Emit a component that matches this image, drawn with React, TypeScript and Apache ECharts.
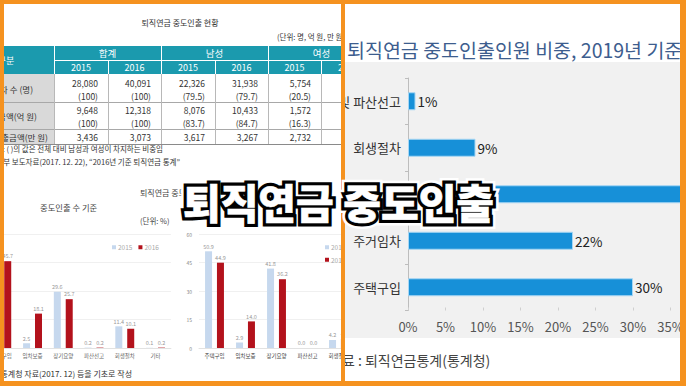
import React, { useEffect, useRef } from "react";
import * as echarts from "echarts";

const FONT = '"Noto Sans CJK KR", "Noto Sans", sans-serif';

// ---------- Left page: table ----------
const tableTitle = "퇴직연금 중도인출 현황";
const tableUnit = "(단위: 명, 억 원, 만 원)";
const tableCorner = "구분";
const tableGroups = ["합계", "남성", "여성"];
const tableYears = ["2015", "2016", "2015", "2016", "2015", "2016"];
const tableRowLabels = ["인출자 수 (명)", "인출금액(억 원)", "1인당 평균 인출금액(만 원)"];
const withdrawCount = ["28,080", "40,091", "22,326", "31,938", "5,754", "8,153"];
const withdrawCountShare = ["(100)", "(100)", "(79.5)", "(79.7)", "(20.5)", "(20.3)"];
const withdrawAmount = ["9,648", "12,318", "8,076", "10,433", "1,572", "1,885"];
const withdrawAmountShare = ["(100)", "(100)", "(83.7)", "(84.7)", "(16.3)", "(15.3)"];
const withdrawAverage = ["3,436", "3,073", "3,617", "3,267", "2,732", "2,312"];
const tableNote1 = "주: ( )의 값은 전체 대비 남성과 여성이 차지하는 비중임";
const tableNote2 = "자료: 고용노동부 보도자료(2017. 12. 22), “2016년 기준 퇴직연금 통계”";

// ---------- Left page: bar charts ----------
const reasonTitle = "퇴직연금 중도인출 사유별 비중";
const countChartTitle = "중도인출 수 기준";
const amountChartTitle = "중도인출 금액 기준";
const unitPercent = "(단위: %)";
const reasonCats = ["주택구입", "임차보증", "장기요양", "파산선고", "회생절차", "기타"];
const legendYears = ["2015", "2016"];
const count2015 = [56.2, 2.5, 29.6, 0.2, 11.4, 0.1];
const count2016 = [45.7, 18.1, 25.7, 0.2, 10.1, 0.2];
const amount2015 = [50.9, 2.9, 41.8, 0.0, 4.2, 0.2];
const amount2016 = [44.9, 14.0, 36.2, 0.0, 4.7, 0.2];
const leftSource = "자료: 통계청 자료(2017. 12) 등을 기초로 작성";

// ---------- Right page: horizontal bars ----------
const shareTitle = "퇴직연금 중도인출인원 비중, 2019년 기준";
const shareCats = ["개인회생 및 파산선고", "회생절차", "장기요양", "주거임차", "주택구입"];
const shareValues = [1, 9, 38, 22, 30];
const shareSource = "자료 : 퇴직연금통계(통계청)";

// ---------- Overlay ----------
const overlayText = "퇴직연금 중도인출";

const ORANGE = "#f5921f";
const TEAL = "#1b9aae";

// left panel offset (global -> local)
const LX = 4;
const LY = 4;
const lx = (x: number) => x - LX;
const ly = (y: number) => y - LY;
// right panel offset
const RX = 345;
const RY = 4;

function line(x1: number, y1: number, x2: number, y2: number, stroke: string, w = 1): any {
  return {
    type: "line",
    shape: { x1: lx(x1), y1: ly(y1), x2: lx(x2), y2: ly(y2) },
    style: { stroke, lineWidth: w },
  };
}

function txt(
  text: string,
  x: number,
  y: number,
  size: number,
  fill: string,
  align: string = "left",
  weight: any = "normal"
): any {
  return {
    type: "text",
    x: lx(x),
    y: ly(y),
    style: {
      text,
      fill,
      fontSize: size,
      fontFamily: FONT,
      fontWeight: weight,
      align,
      verticalAlign: "middle",
    },
  };
}

function buildLeftGraphics(): any[] {
  const g: any[] = [];
  const colEdges = [54, 108, 161, 215, 268, 321, 375];
  g.push({ type: "rect", shape: { x: lx(-20), y: ly(46), width: 395, height: 28 }, style: { fill: TEAL } });
  g.push({ type: "rect", shape: { x: lx(-20), y: ly(74), width: 74, height: 70 }, style: { fill: "#d9d9d9" } });
  g.push(line(54.5, 46, 54.5, 74, "#ffffff"));
  g.push(line(161.5, 46, 161.5, 74, "#ffffff"));
  g.push(line(268.5, 46, 268.5, 74, "#ffffff"));
  g.push(line(108.5, 60, 108.5, 74, "#ffffff"));
  g.push(line(215.5, 60, 215.5, 74, "#ffffff"));
  g.push(line(321.5, 60, 321.5, 74, "#ffffff"));
  g.push(line(54, 60.5, 375, 60.5, "#ffffff"));
  g.push(line(-20, 102.5, 375, 102.5, "#a8a8a8"));
  g.push(line(-20, 129.5, 375, 129.5, "#a8a8a8"));
  g.push(line(-20, 144.5, 375, 144.5, "#8a8a8a"));
  for (let i = 0; i < 6; i++) {
    g.push(line(colEdges[i] + 0.5, 74, colEdges[i] + 0.5, 144, "#b8b8b8"));
  }
  g.push(txt(tableCorner, 6, 60, 9, "#ffffff", "center"));
  tableGroups.forEach((t, i) => {
    g.push(txt(t, (colEdges[i * 2] + colEdges[i * 2 + 2]) / 2, 53, 9.5, "#ffffff", "center"));
  });
  tableYears.forEach((t, i) => {
    g.push(txt(t, (colEdges[i] + colEdges[i + 1]) / 2, 67.5, 9, "#ffffff", "center"));
  });
  g.push(txt(tableRowLabels[0], 33, 89, 8.5, "#333", "right"));
  g.push(txt(tableRowLabels[1], 37, 116, 8.5, "#333", "right"));
  g.push(txt(tableRowLabels[2], 48, 137, 8.5, "#333", "right"));
  for (let i = 0; i < 6; i++) {
    const xr = colEdges[i + 1] - 10;
    g.push(txt(withdrawCount[i], xr, 83, 8.5, "#333", "right"));
    g.push(txt(withdrawCountShare[i], xr, 96, 8.5, "#333", "right"));
    g.push(txt(withdrawAmount[i], xr, 109.5, 8.5, "#333", "right"));
    g.push(txt(withdrawAmountShare[i], xr, 122.5, 8.5, "#333", "right"));
    g.push(txt(withdrawAverage[i], xr, 137, 8.5, "#333", "right"));
  }
  g.push(txt(tableTitle, 180, 22, 8, "#333", "center"));
  g.push(txt(tableUnit, 277, 36, 7.5, "#333", "left"));
  g.push(txt(tableNote1, 163, 148, 7.5, "#333", "right"));
  g.push(txt(tableNote2, 180, 161, 7.5, "#333", "right"));
  g.push(txt(reasonTitle, 140, 192, 8, "#444", "left"));
  g.push(txt(countChartTitle, 40, 207, 8.3, "#444", "left"));
  g.push(txt(amountChartTitle, 238, 207, 8.3, "#444", "left"));
  g.push(txt(unitPercent, 140, 220, 7.5, "#444", "left"));
  g.push(txt(leftSource, 132, 373, 8, "#333", "right"));
  return g;
}

const fmt1 = (p: any) => Number(p.value).toFixed(1);

function barSeries(name: string, data: number[], axis: number, color: string): any {
  return {
    type: "bar",
    name,
    xAxisIndex: axis,
    yAxisIndex: axis,
    data,
    barWidth: 7,
    barGap: "70%",
    itemStyle: { color },
    label: {
      show: true,
      position: "top",
      distance: 2,
      fontSize: 5.5,
      color: "#999",
      fontFamily: FONT,
      formatter: fmt1,
    },
  };
}

function leftOption(): any {
  const catAxis = (gi: number, color: string) => ({
    type: "category",
    gridIndex: gi,
    data: reasonCats,
    axisLine: { show: true, lineStyle: { color: "#e2e2e2" } },
    axisTick: { show: false },
    axisLabel: { fontSize: 5.5, color, margin: 5, interval: 0, fontFamily: FONT },
  });
  const valAxis = (gi: number, showLabel: boolean) => ({
    type: "value",
    gridIndex: gi,
    min: 0,
    max: 60,
    interval: 15,
    axisLine: { show: false },
    axisTick: { show: false },
    axisLabel: { show: showLabel, fontSize: 5, color: "#888", margin: 7, fontFamily: FONT },
    splitLine: { lineStyle: { color: "#f0f0f0" } },
  });
  const legend = (left: number) => ({
    data: legendYears,
    left,
    top: 240,
    padding: 0,
    icon: "rect",
    itemWidth: 4,
    itemHeight: 4,
    itemGap: 6,
    selectedMode: false,
    textStyle: { fontSize: 6.5, color: "#aaa", fontFamily: FONT, padding: [0, 0, 0, -3] },
  });
  return {
    animation: false,
    backgroundColor: "#ffffff",
    textStyle: { fontFamily: FONT },
    grid: [
      { left: lx(-13.6), top: ly(234), width: 184.5, height: 114, containLabel: false, outerBoundsMode: "none" },
      { left: lx(199), top: ly(234), width: 186, height: 114, containLabel: false, outerBoundsMode: "none" },
    ],
    xAxis: [catAxis(0, "#666"), catAxis(1, "#444")],
    yAxis: [valAxis(0, false), valAxis(1, true)],
    legend: [legend(lx(112)), legend(lx(325))],
    series: [
      barSeries("2015", count2015, 0, "#c6d8ee"),
      barSeries("2016", count2016, 0, "#b3121c"),
      barSeries("2015", amount2015, 1, "#c6d8ee"),
      barSeries("2016", amount2016, 1, "#b3121c"),
    ],
    graphic: buildLeftGraphics(),
  };
}

function rightOption(): any {
  return {
    animation: false,
    backgroundColor: "#f1f1f1",
    textStyle: { fontFamily: FONT },
    grid: {
      left: 408 - RX,
      top: 78 - RY,
      width: 300,
      height: 232.5,
      containLabel: false,
      outerBoundsMode: "none",
    },
    xAxis: {
      type: "value",
      min: 0,
      max: 40,
      interval: 5,
      axisLine: { show: false },
      axisTick: { show: true, inside: true, length: 3, lineStyle: { color: "#cfcfcf" } },
      splitLine: { show: false },
      axisLabel: { formatter: (v: number) => v + "%", fontSize: 13, color: "#555", margin: 9, fontFamily: FONT },
    },
    yAxis: {
      type: "category",
      inverse: true,
      data: shareCats,
      axisLine: { show: true, lineStyle: { color: "#bdbdbd" } },
      axisTick: { show: true, length: 3, lineStyle: { color: "#bdbdbd" } },
      axisLabel: { fontSize: 13, color: "#333", margin: 7, interval: 0, fontFamily: FONT },
    },
    series: [
      {
        type: "bar",
        data: shareValues,
        barWidth: 18,
        itemStyle: { color: "#1790d8", borderColor: "#a6d6f4", borderWidth: 1 },
        label: {
          show: true,
          position: "right",
          distance: 2,
          formatter: "{c}%",
          fontSize: 13.5,
          color: "#222",
          fontFamily: FONT,
        },
      },
    ],
    graphic: [
      { type: "rect", shape: { x: 0, y: 0, width: 335, height: 62 - RY }, style: { fill: "#ffffff" } },
      { type: "rect", shape: { x: 0, y: 338 - RY, width: 335, height: 60 }, style: { fill: "#ffffff" } },
      {
        type: "text",
        x: 347 - RX,
        y: 49 - RY,
        style: {
          text: shareTitle,
          fill: "#3d5d8e",
          fontSize: 19.5,
          fontFamily: FONT,
          align: "left",
          verticalAlign: "middle",
        },
      },
      {
        type: "text",
        x: 329 - RX,
        y: 360 - RY,
        style: {
          text: shareSource,
          fill: "#444",
          fontSize: 14,
          fontFamily: FONT,
          align: "left",
          verticalAlign: "middle",
        },
      },
    ],
  };
}

function overlayOption(): any {
  const base = { type: "text", x: 338.5, y: 201 };
  const st = {
    text: overlayText,
    fontSize: 41,
    fontWeight: 900,
    fontFamily: FONT,
    align: "center",
    verticalAlign: "middle",
  };
  return {
    animation: false,
    backgroundColor: "transparent",
    graphic: [
      { ...base, z: 1, style: { ...st, fill: "#ffffff", stroke: "#ffffff", lineWidth: 12 } },
      { ...base, z: 2, style: { ...st, fill: "#000000", stroke: "#000000", lineWidth: 7 } },
      { ...base, z: 3, style: { ...st, fill: "#ffffff", stroke: "#ffffff", lineWidth: 0.6 } },
    ],
  };
}

export default function App() {
  const leftRef = useRef<HTMLDivElement>(null);
  const rightRef = useRef<HTMLDivElement>(null);
  const overRef = useRef<HTMLDivElement>(null);

  useEffect(() => {
    const l = echarts.init(leftRef.current!, undefined, { renderer: "svg" });
    l.setOption(leftOption());
    const r = echarts.init(rightRef.current!, undefined, { renderer: "svg" });
    r.setOption(rightOption());
    const o = echarts.init(overRef.current!, undefined, { renderer: "svg" });
    o.setOption(overlayOption());
    return () => {
      l.dispose();
      r.dispose();
      o.dispose();
    };
  }, []);

  return (
    <div
      style={{
        position: "absolute",
        left: 0,
        top: 0,
        width: 686,
        height: 386,
        background: ORANGE,
        overflow: "hidden",
      }}
    >
      <div
        ref={leftRef}
        style={{ position: "absolute", left: LX, top: LY, width: 337, height: 377, overflow: "hidden" }}
      />
      <div
        ref={rightRef}
        style={{ position: "absolute", left: RX, top: RY, width: 335, height: 377, overflow: "hidden" }}
      />
      <div
        ref={overRef}
        style={{ position: "absolute", left: 0, top: 0, width: 686, height: 386, pointerEvents: "none" }}
      />
    </div>
  );
}
